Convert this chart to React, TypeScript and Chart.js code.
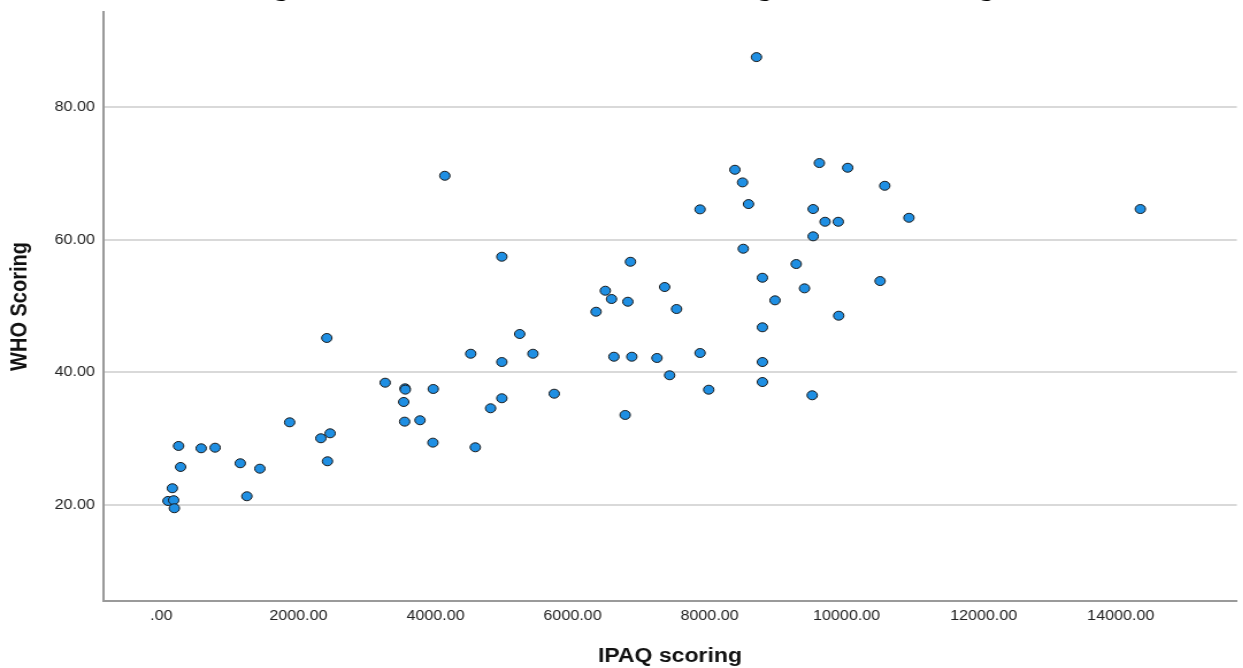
import React, { useEffect, useRef } from "react";
import { Chart, registerables } from "chart.js";

Chart.register(...registerables);

const chartTitle = "Figure 4: Correlation between IPAQ scoring and WHO scoring";
const xAxisTitle = "IPAQ scoring";
const yAxisTitle = "WHO Scoring";

const ipaqScores = [
  251, 581, 784, 280, 160, 96, 179, 189, 1248, 1872,
  1151, 1437, 2327, 2462, 2424, 3266, 3556, 3560, 3967, 3536,
  3550, 3774, 3962, 4136, 8369, 8481, 8568, 7861, 8491, 4968,
  6845, 9264, 8771, 7344, 6478, 6569, 6807, 8955, 6343, 7518,
  5229, 8771, 4514, 4968, 5422, 6604, 6865, 7232, 7861, 8771,
  7417, 8771, 7987, 6768, 5733, 4968, 4804, 4581, 8684, 9602,
  10015, 10556, 9511, 9685, 9878, 10909, 14286, 9511, 9385, 10488,
  9884, 9497, 2414,
];
const whoScores = [
  28.9, 28.55, 28.64, 25.73, 22.52, 20.6, 20.71, 19.5, 21.31, 32.47,
  26.29, 25.47, 30.06, 30.81, 26.59, 38.45, 37.6, 37.4, 37.5, 35.54,
  32.57, 32.78, 29.4, 69.68, 70.59, 68.68, 65.41, 64.61, 58.67, 57.46,
  56.7, 56.36, 54.29, 52.89, 52.33, 51.08, 50.67, 50.88, 49.16, 49.57,
  45.8, 46.81, 42.82, 41.57, 42.82, 42.37, 42.37, 42.18, 42.93, 41.57,
  39.57, 38.55, 37.39, 33.58, 36.79, 36.1, 34.59, 28.7, 87.59, 71.6,
  70.89, 68.17, 64.66, 62.74, 62.74, 63.34, 64.66, 60.54, 52.69, 53.79,
  48.56, 36.55, 45.2,
];

const xTickValues = [0, 2000, 4000, 6000, 8000, 10000, 12000, 14000];
const yTickValues = [20, 40, 60, 80];
const xRange = [-852, 15694];
const yRange = [5.5, 94.4];

const STRETCH = 1.15;
const TOP_HIDE = 25;
const CANVAS_W = 1081;
const CANVAS_H = 668 + TOP_HIDE;

const sansFamily = '"Liberation Sans", Arial, Helvetica, sans-serif';

export default function App() {
  const canvasRef = useRef<HTMLCanvasElement | null>(null);

  useEffect(() => {
    const canvas = canvasRef.current;
    if (!canvas) return;
    const points = ipaqScores.map((x, i) => ({ x, y: whoScores[i] }));
    const chart = new Chart(canvas, {
      type: "scatter",
      data: {
        datasets: [
          {
            data: points,
            backgroundColor: "#1f8fe3",
            borderColor: "#1a1a1a",
            borderWidth: 1,
            pointRadius: 4.5,
            pointHoverRadius: 4.5,
          },
        ],
      },
      options: {
        responsive: false,
        animation: false,
        events: [],
        layout: { padding: 0 },
        plugins: {
          legend: { display: false },
          tooltip: { enabled: false },
          title: {
            display: true,
            text: chartTitle,
            color: "#000",
            font: { family: '"Liberation Serif", "Times New Roman", serif', size: 24, weight: "bold" },
            padding: { top: 0, bottom: 8.2 },
          },
        },
        scales: {
          x: {
            type: "linear",
            min: xRange[0],
            max: xRange[1],
            afterBuildTicks: (scale: any) => {
              scale.ticks = xTickValues.map((v) => ({ value: v }));
            },
            afterFit: (scale: any) => {
              scale.height = 67;
            },
            grid: { display: false, drawTicks: false },
            border: { display: true, color: "#9a9a9a", width: 2 },
            ticks: {
              autoSkip: false,
              maxRotation: 0,
              padding: 7,
              color: "#222",
              font: { family: sansFamily, size: 14 },
              callback: (v: any) => (Number(v) === 0 ? ".00" : Number(v).toFixed(2)),
            },
            title: {
              display: true,
              text: xAxisTitle,
              color: "#111",
              font: { family: sansFamily, size: 20, weight: "bold" },
              padding: { top: 0, bottom: 0 },
            },
          },
          y: {
            type: "linear",
            min: yRange[0],
            max: yRange[1],
            afterBuildTicks: (scale: any) => {
              scale.ticks = yTickValues.map((v) => ({ value: v }));
            },
            afterFit: (scale: any) => {
              scale.width = 103 / STRETCH;
            },
            grid: { color: "#d9d9d9", lineWidth: 2, drawTicks: false },
            border: { display: true, color: "#9a9a9a", width: 2 },
            ticks: {
              padding: 7,
              color: "#222",
              font: { family: sansFamily, size: 14 },
              callback: (v: any) => Number(v).toFixed(2),
            },
            title: {
              display: true,
              text: yAxisTitle,
              color: "#111",
              font: { family: sansFamily, size: 20, weight: "bold" },
              padding: { top: 5.4, bottom: 0 },
            },
          },
        },
      },
    } as any);
    return () => chart.destroy();
  }, []);

  return (
    <div
      style={{
        position: "fixed",
        left: 0,
        top: 0,
        width: 1243,
        height: 668,
        overflow: "hidden",
        background: "#fff",
      }}
    >
      <div
        style={{
          position: "absolute",
          left: 0,
          top: -TOP_HIDE,
          width: CANVAS_W,
          height: CANVAS_H,
          transform: `scaleX(${STRETCH})`,
          transformOrigin: "0 0",
        }}
      >
        <canvas ref={canvasRef} width={CANVAS_W} height={CANVAS_H} style={{ display: "block" }} />
      </div>
    </div>
  );
}
